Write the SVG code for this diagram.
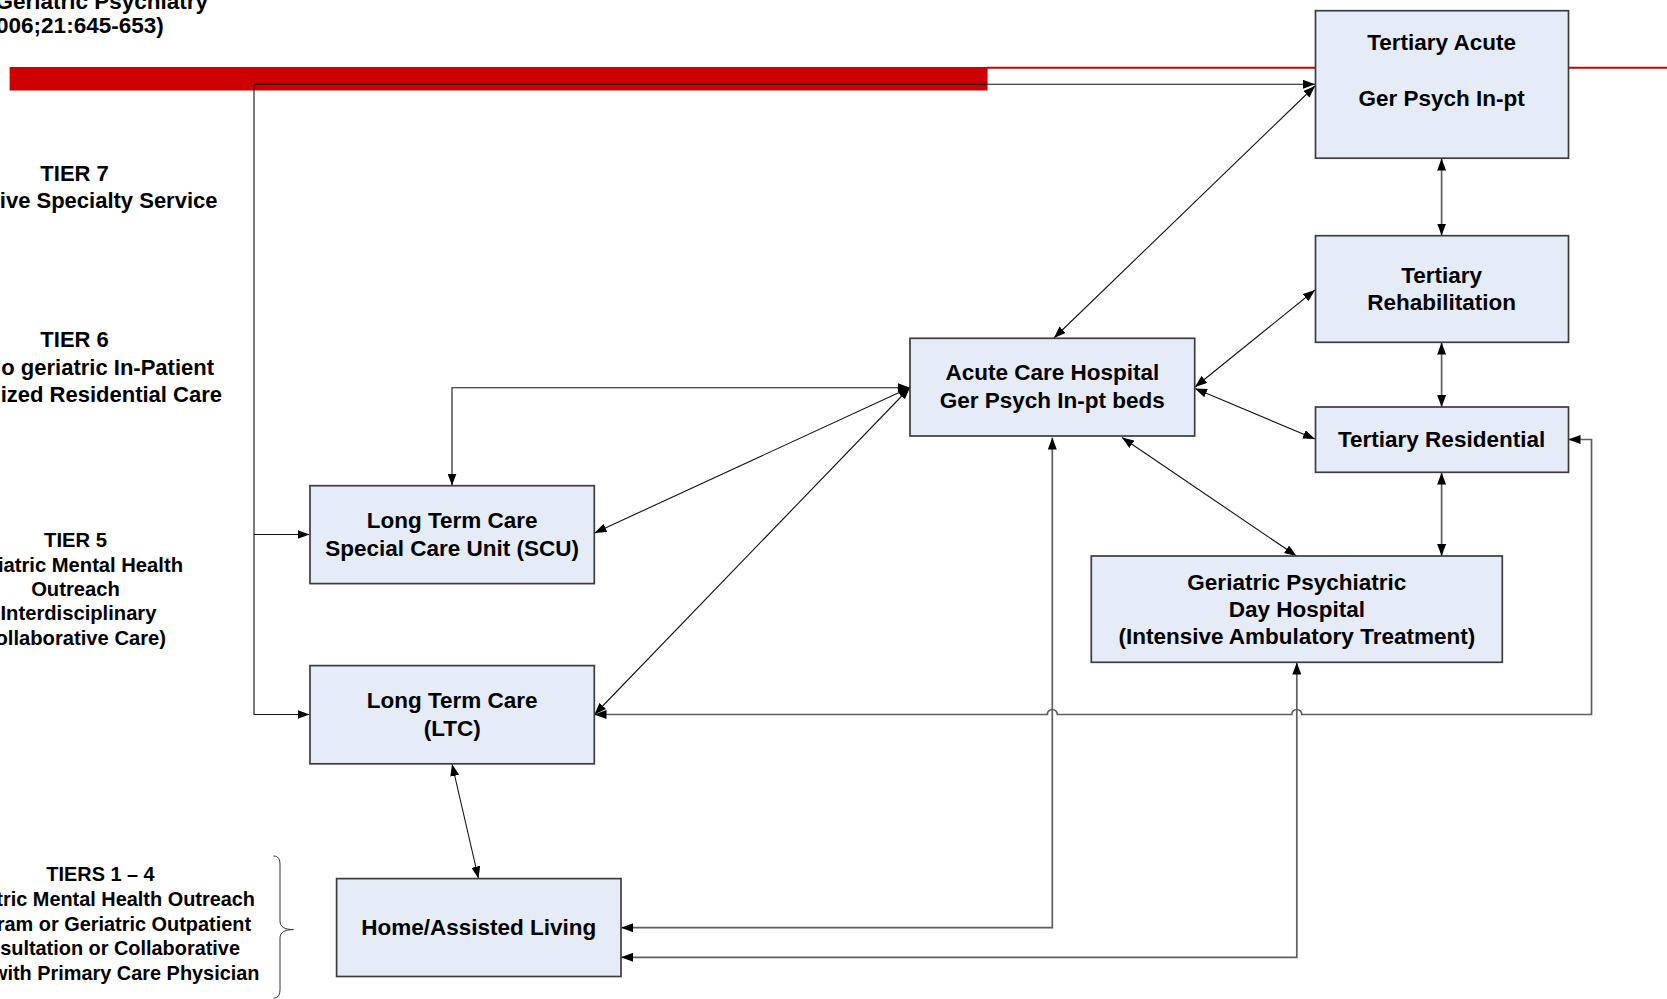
<svg xmlns="http://www.w3.org/2000/svg" width="1667" height="999" viewBox="0 0 1667 999">
<style>
  text { font-family: "Liberation Sans", Arial, sans-serif; font-weight: bold; fill: #000; }
  .bx { fill: #E6ECF7; stroke: #3c3c3c; stroke-width: 1.7; }
  .t { font-size: 22.5px; text-anchor: middle; }
  .side { font-size: 22px; }
  .top { font-size: 22.5px; }
  .small { font-size: 20.2px; }
  .small2 { font-size: 19.9px; }
  .mid { text-anchor: middle; }
  .end { text-anchor: end; }
  .cd { fill: none; stroke: #111; stroke-width: 1.1; }
  .cg { fill: none; stroke: #5e5e5e; stroke-width: 1.7; }
</style>
<defs>
  <marker id="ah" viewBox="0 0 12 9" refX="12" refY="4.5" markerWidth="12" markerHeight="9" markerUnits="userSpaceOnUse" orient="auto-start-reverse">
    <path d="M0,0 L12,4.5 L0,9 z" fill="#000"/>
  </marker>
</defs>
<rect width="1667" height="999" fill="#fff"/>

<g id="banner">
  <rect x="9.6" y="67" width="978" height="23.5" fill="#CC0000"/>
  <line x1="987" y1="67.7" x2="1667" y2="67.7" stroke="#CC0000" stroke-width="2"/>
</g>

<g id="side-labels">
  <text class="top end" x="208" y="9">Geriatric Psychiatry</text>
  <text class="top end" x="163.7" y="33">006;21:645-653)</text>
  <text class="side mid" x="74.6" y="180.5">TIER 7</text>
  <text class="side end" x="217.5" y="207.8">ive Specialty Service</text>
  <text class="side mid" x="74.6" y="347">TIER 6</text>
  <text class="side end" x="214" y="374.7">o geriatric In-Patient</text>
  <text class="side end" x="222" y="402.3">ized Residential Care</text>
  <text class="small mid" x="75.5" y="547">TIER 5</text>
  <text class="small end" x="183" y="572">iatric Mental Health</text>
  <text class="small mid" x="75.5" y="596">Outreach</text>
  <text class="small mid" x="78.5" y="620">Interdisciplinary</text>
  <text class="small end" x="166" y="645">ollaborative Care)</text>
  <text class="small2 mid" x="100.5" y="881">TIERS 1 – 4</text>
  <text class="small2 end" x="255" y="905.8">tric Mental Health Outreach</text>
  <text class="small2 end" x="251" y="930.6">ram or Geriatric Outpatient</text>
  <text class="small2 end" x="240" y="955.4">sultation or Collaborative</text>
  <text class="small2 end" x="259.5" y="980.2">with Primary Care Physician</text>
  <path d="M273.5,856 C278.5,856 280,859.5 280,865 L280,921 C280,926.5 284,929.6 293.5,929.6 C284,929.6 280,932.7 280,938.2 L280,989 C280,994.5 278.5,998 273.5,998" fill="none" stroke="#333" stroke-width="1"/>
</g>

<g id="connectors">
  <path class="cd" d="M254,84.3 H1315" marker-end="url(#ah)"/>
  <path class="cd" d="M254,84.3 V714.5 H309.5" marker-end="url(#ah)"/>
  <path class="cd" d="M254,534.5 H309.5" marker-end="url(#ah)"/>
  <path class="cd" d="M1054,338 L1315,86" marker-start="url(#ah)" marker-end="url(#ah)"/>
  <path class="cg" d="M1441.6,158.5 V235.5" marker-start="url(#ah)" marker-end="url(#ah)"/>
  <path class="cg" d="M1441.6,342.5 V407" marker-start="url(#ah)" marker-end="url(#ah)"/>
  <path class="cg" d="M1441.6,472.5 V556" marker-start="url(#ah)" marker-end="url(#ah)"/>
  <path class="cd" d="M1195,387 L1315,290" marker-start="url(#ah)" marker-end="url(#ah)"/>
  <path class="cd" d="M1195,388.5 L1315,439" marker-start="url(#ah)" marker-end="url(#ah)"/>
  <path class="cd" d="M1122,437.5 L1296.5,556" marker-start="url(#ah)" marker-end="url(#ah)"/>
  <path class="cd" d="M910,387.5 L594.5,533" marker-start="url(#ah)" marker-end="url(#ah)"/>
  <path class="cd" d="M910,387.5 L594.5,714.5" marker-start="url(#ah)" marker-end="url(#ah)"/>
  <path class="cd" d="M910,387.7 H452 V485.5" marker-start="url(#ah)" marker-end="url(#ah)"/>
  <path class="cd" d="M452,764 L478.5,878.5" marker-start="url(#ah)" marker-end="url(#ah)"/>
  <path class="cg" d="M594.5,714.5 H1047.3 A5,5 0 0 1 1057.3,714.5 H1291.8 A5,5 0 0 1 1301.8,714.5 H1591.5 V439.5 H1568.5" marker-start="url(#ah)" marker-end="url(#ah)"/>
  <path class="cg" d="M1052.3,437.5 V927.7 H621" marker-start="url(#ah)" marker-end="url(#ah)"/>
  <path class="cg" d="M1296.8,662.5 V957.3 H621" marker-start="url(#ah)" marker-end="url(#ah)"/>
</g>

<g id="tertiary-acute">
  <rect class="bx" x="1315.5" y="10.7" width="253" height="147.5"/>
  <text class="t" x="1441.6" y="50">Tertiary Acute</text>
  <text class="t" x="1441.6" y="105.5">Ger Psych In-pt</text>
</g>
<g id="tertiary-rehabilitation">
  <rect class="bx" x="1315.5" y="235.7" width="253" height="106.6"/>
  <text class="t" x="1441.6" y="282.5">Tertiary</text>
  <text class="t" x="1441.6" y="310">Rehabilitation</text>
</g>
<g id="tertiary-residential">
  <rect class="bx" x="1315.5" y="407" width="253" height="65.3"/>
  <text class="t" x="1441.6" y="447">Tertiary Residential</text>
</g>
<g id="acute-care-hospital">
  <rect class="bx" x="910" y="338.3" width="284.7" height="97.7"/>
  <text class="t" x="1052.3" y="380">Acute Care Hospital</text>
  <text class="t" x="1052.3" y="407.6">Ger Psych In-pt beds</text>
</g>
<g id="geriatric-day-hospital">
  <rect class="bx" x="1091.3" y="556" width="411" height="106.3"/>
  <text class="t" x="1296.8" y="589.5">Geriatric Psychiatric</text>
  <text class="t" x="1296.8" y="616.5">Day Hospital</text>
  <text class="t" x="1296.8" y="644">(Intensive Ambulatory Treatment)</text>
</g>
<g id="ltc-scu">
  <rect class="bx" x="310" y="485.7" width="284.3" height="97.9"/>
  <text class="t" x="452.2" y="528">Long Term Care</text>
  <text class="t" x="452.2" y="556">Special Care Unit (SCU)</text>
</g>
<g id="ltc">
  <rect class="bx" x="310" y="665.6" width="284.3" height="98.2"/>
  <text class="t" x="452.2" y="708">Long Term Care</text>
  <text class="t" x="452.2" y="736">(LTC)</text>
</g>
<g id="home-assisted-living">
  <rect class="bx" x="336.6" y="878.6" width="284.4" height="97.9"/>
  <text class="t" x="478.8" y="935">Home/Assisted Living</text>
</g>
</svg>
